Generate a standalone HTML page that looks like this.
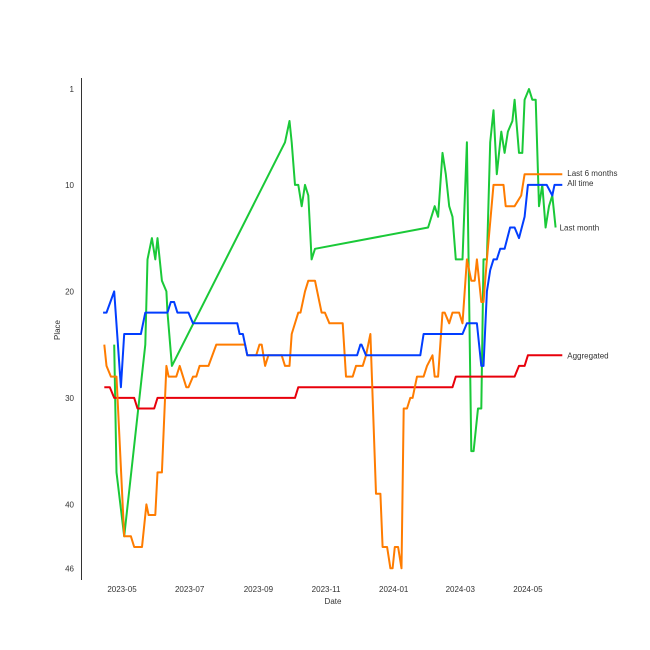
<!DOCTYPE html>
<html><head><meta charset="utf-8"><style>
html,body{margin:0;padding:0;background:#fff;}
svg{display:block;font-family:"Liberation Sans","DejaVu Sans",sans-serif;}
</style></head><body>
<svg id="chart" width="650" height="650" viewBox="0 0 650 650" xmlns="http://www.w3.org/2000/svg">
<rect width="650" height="650" fill="#fff"/>
<line x1="81.5" y1="78" x2="81.5" y2="580" stroke="#333" stroke-width="1"/>
<g id="yticks"></g>
<g id="xticks"></g>
<text x="60" y="330" font-size="8" fill="#333" text-anchor="middle" transform="rotate(-90 60 330)">Place</text>
<text x="333" y="604" font-size="8" fill="#333" text-anchor="middle">Date</text>
<g id="lines"></g>
<g id="labels"></g>
</svg>
<script>
const yTicks=[1,10,20,30,40,46];
const xTickLabels=["2023-05","2023-07","2023-09","2023-11","2024-01","2024-03","2024-05"];

const aggDates=["2023-04-15","2023-04-20","2023-04-24","2023-05-12","2023-05-15","2023-05-30","2023-06-02","2023-10-04","2023-10-07","2024-02-23","2024-02-26","2024-04-19","2024-04-23","2024-04-28","2024-05-01","2024-06-01"];
const aggValues=[29,29,30,30,31,31,30,30,29,29,28,28,27,27,26,26];

const allDates=["2023-04-14","2023-04-17","2023-04-24","2023-04-30","2023-05-03","2023-05-18","2023-05-22","2023-06-11","2023-06-14","2023-06-17","2023-06-20","2023-06-30","2023-07-04","2023-08-13","2023-08-15","2023-08-18","2023-08-22","2023-11-29","2023-12-02","2023-12-03","2023-12-07","2024-01-25","2024-01-28","2024-03-03","2024-03-07","2024-03-16","2024-03-20","2024-03-22","2024-03-25","2024-03-28","2024-03-31","2024-04-03","2024-04-06","2024-04-10","2024-04-15","2024-04-19","2024-04-23","2024-04-28","2024-05-01","2024-05-18","2024-05-23","2024-05-25","2024-06-01"];
const allValues=[22,22,20,29,24,24,22,22,21,21,22,22,23,23,24,24,26,26,25,25,26,26,24,24,23,23,27,27,20,18,17,17,16,16,14,14,15,13,10,10,11,10,10];

const sixDates=["2023-04-15","2023-04-17","2023-04-21","2023-04-26","2023-05-03","2023-05-09","2023-05-12","2023-05-19","2023-05-23","2023-05-25","2023-05-31","2023-06-02","2023-06-06","2023-06-10","2023-06-12","2023-06-19","2023-06-22","2023-06-28","2023-06-30","2023-07-04","2023-07-07","2023-07-10","2023-07-18","2023-07-25","2023-08-20","2023-08-22","2023-08-30","2023-09-02","2023-09-04","2023-09-07","2023-09-10","2023-09-22","2023-09-25","2023-09-29","2023-10-01","2023-10-07","2023-10-09","2023-10-13","2023-10-16","2023-10-22","2023-10-26","2023-10-28","2023-10-31","2023-11-04","2023-11-16","2023-11-19","2023-11-25","2023-11-28","2023-12-04","2023-12-07","2023-12-11","2023-12-16","2023-12-20","2023-12-22","2023-12-26","2023-12-29","2023-12-31","2024-01-02","2024-01-05","2024-01-08","2024-01-10","2024-01-13","2024-01-16","2024-01-18","2024-01-22","2024-01-28","2024-01-31","2024-02-05","2024-02-07","2024-02-10","2024-02-14","2024-02-16","2024-02-20","2024-02-23","2024-02-29","2024-03-03","2024-03-07","2024-03-11","2024-03-14","2024-03-16","2024-03-20","2024-03-22","2024-03-25","2024-03-31","2024-04-09","2024-04-11","2024-04-19","2024-04-25","2024-04-28","2024-06-01"];
const sixValues=[25,27,28,28,43,43,44,44,40,41,41,37,37,27,28,28,27,29,29,28,28,27,27,25,25,26,26,25,25,27,26,26,27,27,24,22,22,20,19,19,21,22,22,23,23,28,28,27,27,26,24,39,39,44,44,46,46,44,44,46,31,31,30,30,28,28,27,26,28,28,22,22,23,22,22,23,17,19,19,17,21,21,17,10,10,12,12,11,9,9];

const monthDates=["2023-04-24","2023-04-26","2023-05-03","2023-05-22","2023-05-24","2023-05-28","2023-05-31","2023-06-02","2023-06-06","2023-06-10","2023-06-11","2023-06-15","2023-09-25","2023-09-29","2023-10-01","2023-10-04","2023-10-07","2023-10-10","2023-10-13","2023-10-16","2023-10-19","2023-10-22","2024-02-01","2024-02-07","2024-02-10","2024-02-14","2024-02-17","2024-02-20","2024-02-23","2024-02-26","2024-03-03","2024-03-07","2024-03-11","2024-03-13","2024-03-17","2024-03-20","2024-03-22","2024-03-25","2024-03-28","2024-03-31","2024-04-03","2024-04-07","2024-04-10","2024-04-13","2024-04-17","2024-04-19","2024-04-23","2024-04-26","2024-04-28","2024-05-02","2024-05-05","2024-05-08","2024-05-11","2024-05-14","2024-05-17","2024-05-20","2024-05-23","2024-05-26"];
const monthValues=[25,37,43,25,17,15,17,15,19,20,22,27,6,4,6,10,10,12,10,11,17,16,14,12,13,7,9,12,13,17,17,6,35,35,31,31,17,17,6,3,9,5,7,5,4,2,7,7,2,1,2,2,12,10,14,12,11,14];

const seriesNames=["Last 6 months","All time","Last month","Aggregated"];

const NS="http://www.w3.org/2000/svg";
const base=Date.UTC(2023,4,1);
function xScale(s){const p=s.split("-").map(Number);const d=(Date.UTC(p[0],p[1]-1,p[2])-base)/86400000;return 122+d*1.109;}
function yScale(v){return 89+(v-1)*10.65;}

const yt=document.getElementById("yticks");
yTicks.forEach(v=>{const t=document.createElementNS(NS,"text");


t.setAttribute("x",74);t.setAttribute("y",yScale(v)+3);t.setAttribute("font-size","8");t.setAttribute("fill","#333");t.setAttribute("text-anchor","end");t.textContent=v;yt.appendChild(t);});
const xt=document.getElementById("xticks");
xTickLabels.forEach(l=>{const t=document.createElementNS(NS,"text");


t.setAttribute("x",xScale(l+"-01"));t.setAttribute("y",592);t.setAttribute("font-size","8");t.setAttribute("fill","#333");t.setAttribute("text-anchor","middle");t.textContent=l;xt.appendChild(t);});

const lg=document.getElementById("lines");
function drawLine(dates,vals,color,name){const p=document.createElementNS(NS,"polyline");


p.setAttribute("points",dates.map((d,i)=>xScale(d).toFixed(1)+","+yScale(vals[i]).toFixed(1)).join(" "));
p.setAttribute("fill","none");p.setAttribute("stroke",color);p.setAttribute("stroke-width","2");p.setAttribute("stroke-linejoin","round");lg.appendChild(p);}
drawLine(monthDates,monthValues,"#1ac938","line-last-month");
drawLine(aggDates,aggValues,"#e8000b","line-aggregated");
drawLine(sixDates,sixValues,"#ff7c00","line-last-6-months");
drawLine(allDates,allValues,"#023eff","line-all-time");

const lb=document.getElementById("labels");
function addLabel(text,x,y){const t=document.createElementNS(NS,"text");


t.setAttribute("x",x);t.setAttribute("y",y);t.setAttribute("font-size","8");t.setAttribute("fill","#333");t.textContent=text;lb.appendChild(t);}
addLabel(seriesNames[0],xScale(sixDates[sixDates.length-1])+5,yScale(sixValues[sixValues.length-1])+2);
addLabel(seriesNames[1],xScale(allDates[allDates.length-1])+5,yScale(allValues[allValues.length-1])+1);
addLabel(seriesNames[2],xScale(monthDates[monthDates.length-1])+4,yScale(monthValues[monthValues.length-1])+3);
addLabel(seriesNames[3],xScale(aggDates[aggDates.length-1])+5,yScale(aggValues[aggValues.length-1])+3);
</script>
</body></html>
